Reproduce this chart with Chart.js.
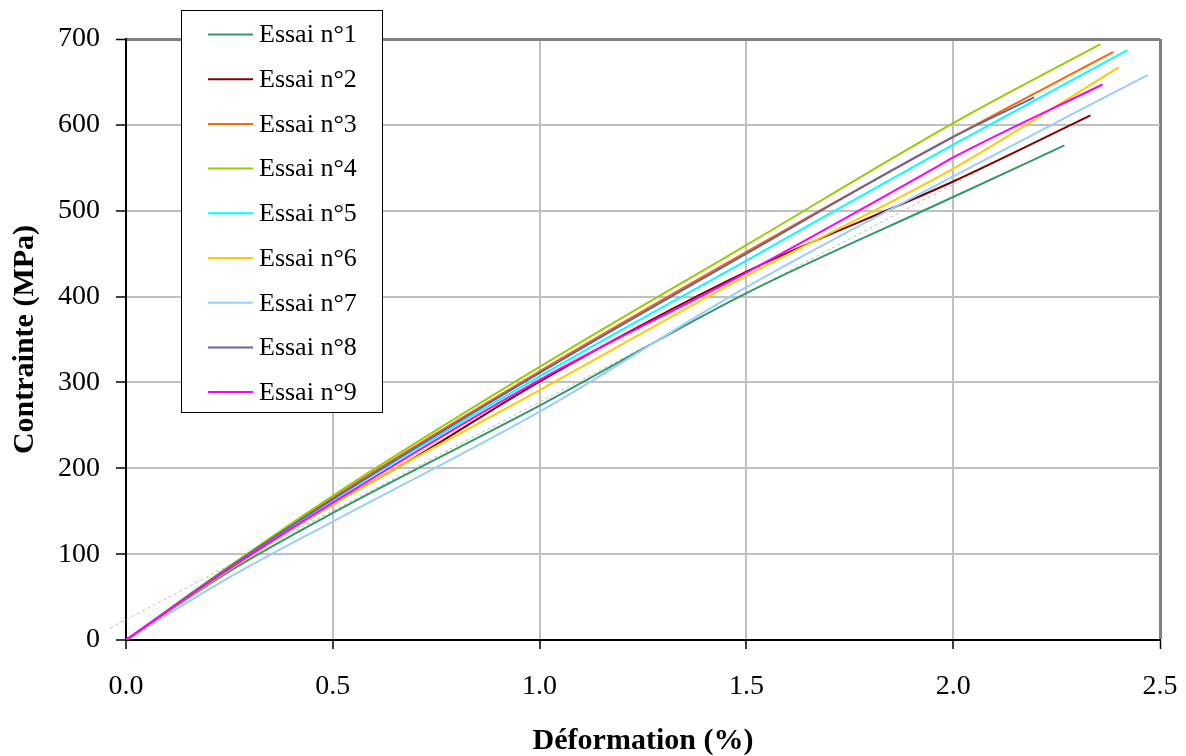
<!DOCTYPE html>
<html lang="fr">
<head>
    <meta charset="UTF-8">
    <script src="https://cdn.jsdelivr.net/npm/chart.js"></script>
    <title>Contrainte - Déformation</title>
    <style>
        body { margin: 0; background: #fff; }
        canvas { display: block; }
    </style>
</head>
<body>
    <canvas id="stressChart" width="1186" height="756"></canvas>
    <script>
        // strain (%) / stress (MPa) points
        const essai1X = [0, 0.25, 0.5, 1.0, 1.5, 2.0, 2.269];
        const essai1Y = [0, 80, 148, 273, 404, 516, 576];
        const essai2X = [0, 0.25, 0.5, 0.70, 1.0, 1.5, 2.0, 2.332];
        const essai2Y = [0, 83, 158, 213, 301, 429, 534, 611];
        const essai3X = [0, 0.25, 0.5, 1.0, 1.5, 2.0, 2.387];
        const essai3Y = [0, 85, 166, 313, 452, 586, 685];
        const essai4X = [0, 0.25, 0.5, 1.0, 1.5, 2.0, 2.356];
        const essai4Y = [0, 86, 168, 318, 460, 602, 694];
        const essai5X = [0, 0.25, 0.5, 1.0, 1.5, 2.0, 2.421];
        const essai5Y = [0, 84, 163, 307, 442, 577, 687];
        const essai6X = [0, 0.25, 0.5, 1.0, 1.5, 2.0, 2.400];
        const essai6Y = [0, 82, 158, 291, 424, 549, 667];
        const essai7X = [0, 0.25, 0.5, 1.0, 1.5, 2.0, 2.470];
        const essai7Y = [0, 73, 138, 266, 411, 540, 658];
        const essai8X = [0, 0.25, 0.5, 1.0, 1.5, 2.0, 2.196];
        const essai8Y = [0, 85, 164, 311, 450, 586, 632];
        const essai9X = [0, 0.25, 0.5, 1.0, 1.5, 1.96, 2.0, 2.361];
        const essai9Y = [0, 83, 160, 303, 428, 551, 562, 647];
        // dotted trend line
        const trendX = [-0.038, 2.167];
        const trendY = [14, 573];

        const labels = ["Essai n°1", "Essai n°2", "Essai n°3", "Essai n°4", "Essai n°5",
                        "Essai n°6", "Essai n°7", "Essai n°8", "Essai n°9"];
        const colors = ["#339966", "#800000", "#ff6600", "#99cc00", "#00ffff",
                        "#ffcc00", "#99ccff", "#666699", "#ff00ff"];
        const xTicks = [0, 0.5, 1.0, 1.5, 2.0, 2.5];
        const yTicks = [0, 100, 200, 300, 400, 500, 600, 700];

        const seriesX = [essai1X, essai2X, essai3X, essai4X, essai5X, essai6X, essai7X, essai8X, essai9X];
        const seriesY = [essai1Y, essai2Y, essai3Y, essai4Y, essai5Y, essai6Y, essai7Y, essai8Y, essai9Y];

        function toPoints(xs, ys) {
            return xs.map((x, i) => ({ x: x, y: ys[i] }));
        }

        const datasets = labels.map((label, i) => ({
            label: label,
            data: toPoints(seriesX[i], seriesY[i]),
            borderColor: colors[i],
            backgroundColor: colors[i],
            borderWidth: 2,
            pointRadius: 0,
            cubicInterpolationMode: "monotone",
            order: 9 - i
        }));
        datasets.push({
            label: "trend",
            data: toPoints(trendX, trendY),
            borderColor: "#b8b8b8",
            borderWidth: 1,
            borderDash: [3, 3],
            pointRadius: 0,
            clip: false,
            order: 10
        });

        // legend box drawn on top of the plot, like the original
        const boxLegend = {
            id: "boxLegend",
            afterDraw(chart) {
                const ctx = chart.ctx;
                ctx.save();
                ctx.fillStyle = "#fff";
                ctx.fillRect(181.5, 10.5, 201, 402);
                ctx.strokeStyle = "#000";
                ctx.lineWidth = 1;
                ctx.strokeRect(181.5, 10.5, 201, 402);
                ctx.font = "26px 'Liberation Serif', 'Times New Roman', serif";
                ctx.textBaseline = "middle";
                ctx.fillStyle = "#000";
                for (let i = 0; i < 9; i++) {
                    const y = 34.5 + i * 44.7;
                    ctx.strokeStyle = chart.data.datasets[i].borderColor;
                    ctx.lineWidth = 2;
                    ctx.beginPath();
                    ctx.moveTo(208, y);
                    ctx.lineTo(253, y);
                    ctx.stroke();
                    ctx.fillText(chart.data.datasets[i].label, 259, y + 1);
                }
                ctx.restore();
            }
        };

        const serif = "'Liberation Serif', 'Times New Roman', serif";

        new Chart(document.getElementById("stressChart"), {
            type: "line",
            data: { datasets: datasets },
            plugins: [boxLegend],
            options: {
                responsive: false,
                animation: false,
                devicePixelRatio: 1,
                layout: { padding: { left: 0, top: 39, right: 26, bottom: 0 } },
                plugins: {
                    legend: { display: false },
                    tooltip: { enabled: false }
                },
                scales: {
                    x: {
                        type: "linear",
                        min: 0,
                        max: 2.5,
                        afterFit: (scale) => {
                            scale.height = 116;
                            scale.paddingLeft = 0;
                            scale.paddingRight = 0;
                        },
                        afterBuildTicks: (scale) => { scale.ticks = xTicks.map(v => ({ value: v })); },
                        ticks: {
                            color: "#000",
                            padding: 21,
                            maxRotation: 0,
                            font: { family: serif, size: 28 },
                            callback: (v) => Number(v).toFixed(1)
                        },
                        grid: {
                            color: (c) => c.tick && c.tick.value === 2.5 ? "#808080" : "#c0c0c0",
                            lineWidth: (c) => c.tick && c.tick.value === 2.5 ? 3 : 2,
                            tickColor: "#000",
                            tickLength: 9,
                            tickWidth: 1.5
                        },
                        border: { color: "#000", width: 2 },
                        title: {
                            display: true,
                            text: "Déformation (%)",
                            color: "#000",
                            padding: { top: 0, bottom: 0 },
                            font: { family: serif, size: 30, weight: "bold", lineHeight: 1 }
                        }
                    },
                    y: {
                        min: 0,
                        max: 700,
                        afterFit: (scale) => {
                            scale.width = 126;
                            scale.paddingTop = 0;
                            scale.paddingBottom = 0;
                        },
                        afterBuildTicks: (scale) => { scale.ticks = yTicks.map(v => ({ value: v })); },
                        ticks: {
                            color: "#000",
                            padding: 16,
                            font: { family: serif, size: 28 }
                        },
                        grid: {
                            color: (c) => c.tick && c.tick.value === 700 ? "#808080" : "#c0c0c0",
                            lineWidth: (c) => c.tick && c.tick.value === 700 ? 3 : 2,
                            tickColor: "#000",
                            tickLength: 10,
                            tickWidth: 1.5
                        },
                        border: { color: "#000", width: 2 },
                        title: {
                            display: true,
                            text: "Contrainte (MPa)",
                            color: "#000",
                            padding: { top: 7, bottom: 0 },
                            font: { family: serif, size: 30, weight: "bold" }
                        }
                    }
                }
            }
        });
    </script>
</body>
</html>
